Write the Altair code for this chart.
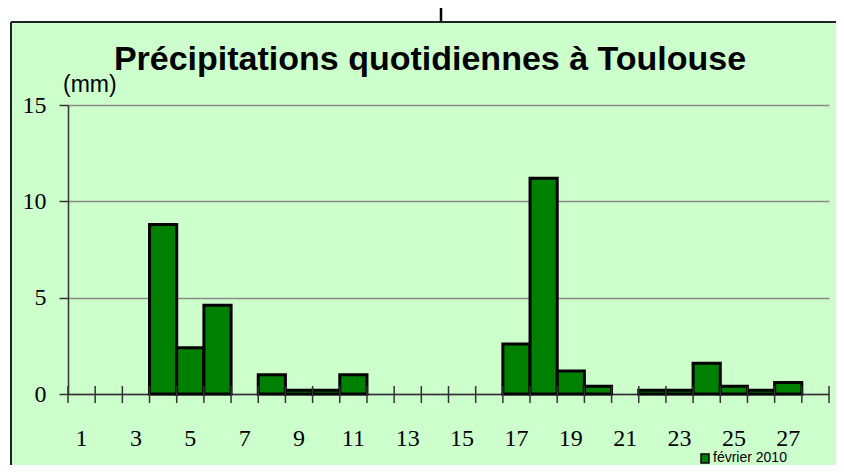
import altair as alt
import pandas as pd

# ---- data ----
days = list(range(1, 29))
rain = [0, 0, 0, 8.8, 2.4, 4.6, 0, 1.0, 0.2, 0.2, 1.0, 0, 0, 0,
        0, 0, 2.6, 11.2, 1.2, 0.4, 0, 0.2, 0.2, 1.6, 0.4, 0.2, 0.6, 0]
y_ticks = [0, 5, 10, 15]
title_text = "Précipitations quotidiennes à Toulouse"
unit_text = "(mm)"
legend_text = "février 2010"

W, H = 761, 289
TOTAL_W, TOTAL_H = 828, 457
PAD_L, PAD_T = 60, 97

df = pd.DataFrame({"day": days, "rain": rain})
bars_df = df[df["rain"] > 0]
one = pd.DataFrame({"k": [0]})

x_scale = alt.Scale(domain=days, paddingInner=0, paddingOuter=0)
y_scale = alt.Scale(domain=[0, 15], nice=False)

x_axis = alt.Axis(
    title=None, ticks=False, tickSize=0, domain=True, domainColor="#333333",
    domainWidth=1.5, labelExpr="datum.value % 2 == 1 ? datum.label : ''",
    labelFont="Liberation Serif", labelFontSize=24, labelColor="black",
    labelPadding=32, labelAngle=0, grid=False, labelBaseline="top",
)
y_axis = alt.Axis(
    title=None, values=y_ticks, ticks=True, tickSize=9, tickColor="#333333",
    tickWidth=1.5, domain=True, domainColor="#333333", domainWidth=1.5,
    grid=True, gridColor="#8a8a8a", gridWidth=1.5,
    labelFont="Liberation Serif", labelFontSize=24, labelColor="black",
    labelPadding=13,
)

# frame pieces (white outside the green box, black border lines)
white_top = alt.Chart(one).mark_rect(fill="white").encode(
    x=alt.value(-PAD_L), x2=alt.value(TOTAL_W - PAD_L + 5),
    y=alt.value(-PAD_T), y2=alt.value(-83))
white_left = alt.Chart(one).mark_rect(fill="white").encode(
    x=alt.value(-PAD_L), x2=alt.value(-57),
    y=alt.value(-PAD_T), y2=alt.value(TOTAL_H - PAD_T + 5))
border_top = alt.Chart(one).mark_rule(color="#222222", strokeWidth=2).encode(
    x=alt.value(-57), x2=alt.value(TOTAL_W - PAD_L + 5), y=alt.value(-83))
border_left = alt.Chart(one).mark_rule(color="#222222", strokeWidth=2).encode(
    x=alt.value(-57), y=alt.value(-83), y2=alt.value(TOTAL_H - PAD_T + 5))
stub = alt.Chart(one).mark_rule(color="black", strokeWidth=2.5).encode(
    x=alt.value(373), y=alt.value(-103), y2=alt.value(-83))

bars = alt.Chart(bars_df).mark_bar(
    fill="#008000", stroke="black", strokeWidth=3
).encode(
    x=alt.X("day:O", scale=x_scale, axis=x_axis),
    y=alt.Y("rain:Q", scale=y_scale, axis=y_axis),
)

ticks = alt.Chart(df).mark_rule(color="#333333", strokeWidth=1.5).encode(
    x=alt.X("day:O", bandPosition=0, scale=x_scale),
    y=alt.value(H - 8), y2=alt.value(H + 9),
)
end_tick = alt.Chart(one).mark_rule(color="#333333", strokeWidth=1.5).encode(
    x=alt.value(W), y=alt.value(H - 8), y2=alt.value(H + 9))

title = alt.Chart(one).mark_text(
    text=title_text, font="Liberation Sans", fontSize=34, fontWeight="bold",
    align="center", baseline="alphabetic", color="black"
).encode(x=alt.value(362), y=alt.value(-35))

unit = alt.Chart(one).mark_text(
    text=unit_text, font="Liberation Sans", fontSize=23,
    align="left", baseline="alphabetic", color="black"
).encode(x=alt.value(-5), y=alt.value(-13))

leg_sq = alt.Chart(one).mark_rect(fill="#008000", stroke="black", strokeWidth=1.5).encode(
    x=alt.value(633), x2=alt.value(641), y=alt.value(349), y2=alt.value(358))
leg_txt = alt.Chart(one).mark_text(
    text=legend_text, font="Liberation Sans", fontSize=14,
    align="left", baseline="middle", color="black"
).encode(x=alt.value(645), y=alt.value(353))

chart = alt.layer(
    white_top, white_left, border_top, border_left, stub,
    bars, ticks, end_tick, title, unit, leg_sq, leg_txt
).properties(
    width=W, height=H, background="#CCFFCC",
    autosize=alt.AutoSizeParams(type="none"),
    padding={"left": PAD_L, "top": PAD_T, "right": TOTAL_W - PAD_L - W,
             "bottom": TOTAL_H - PAD_T - H},
).configure_view(stroke=None)

chart.save("out.html", embed_options={"renderer": "svg", "actions": False})
